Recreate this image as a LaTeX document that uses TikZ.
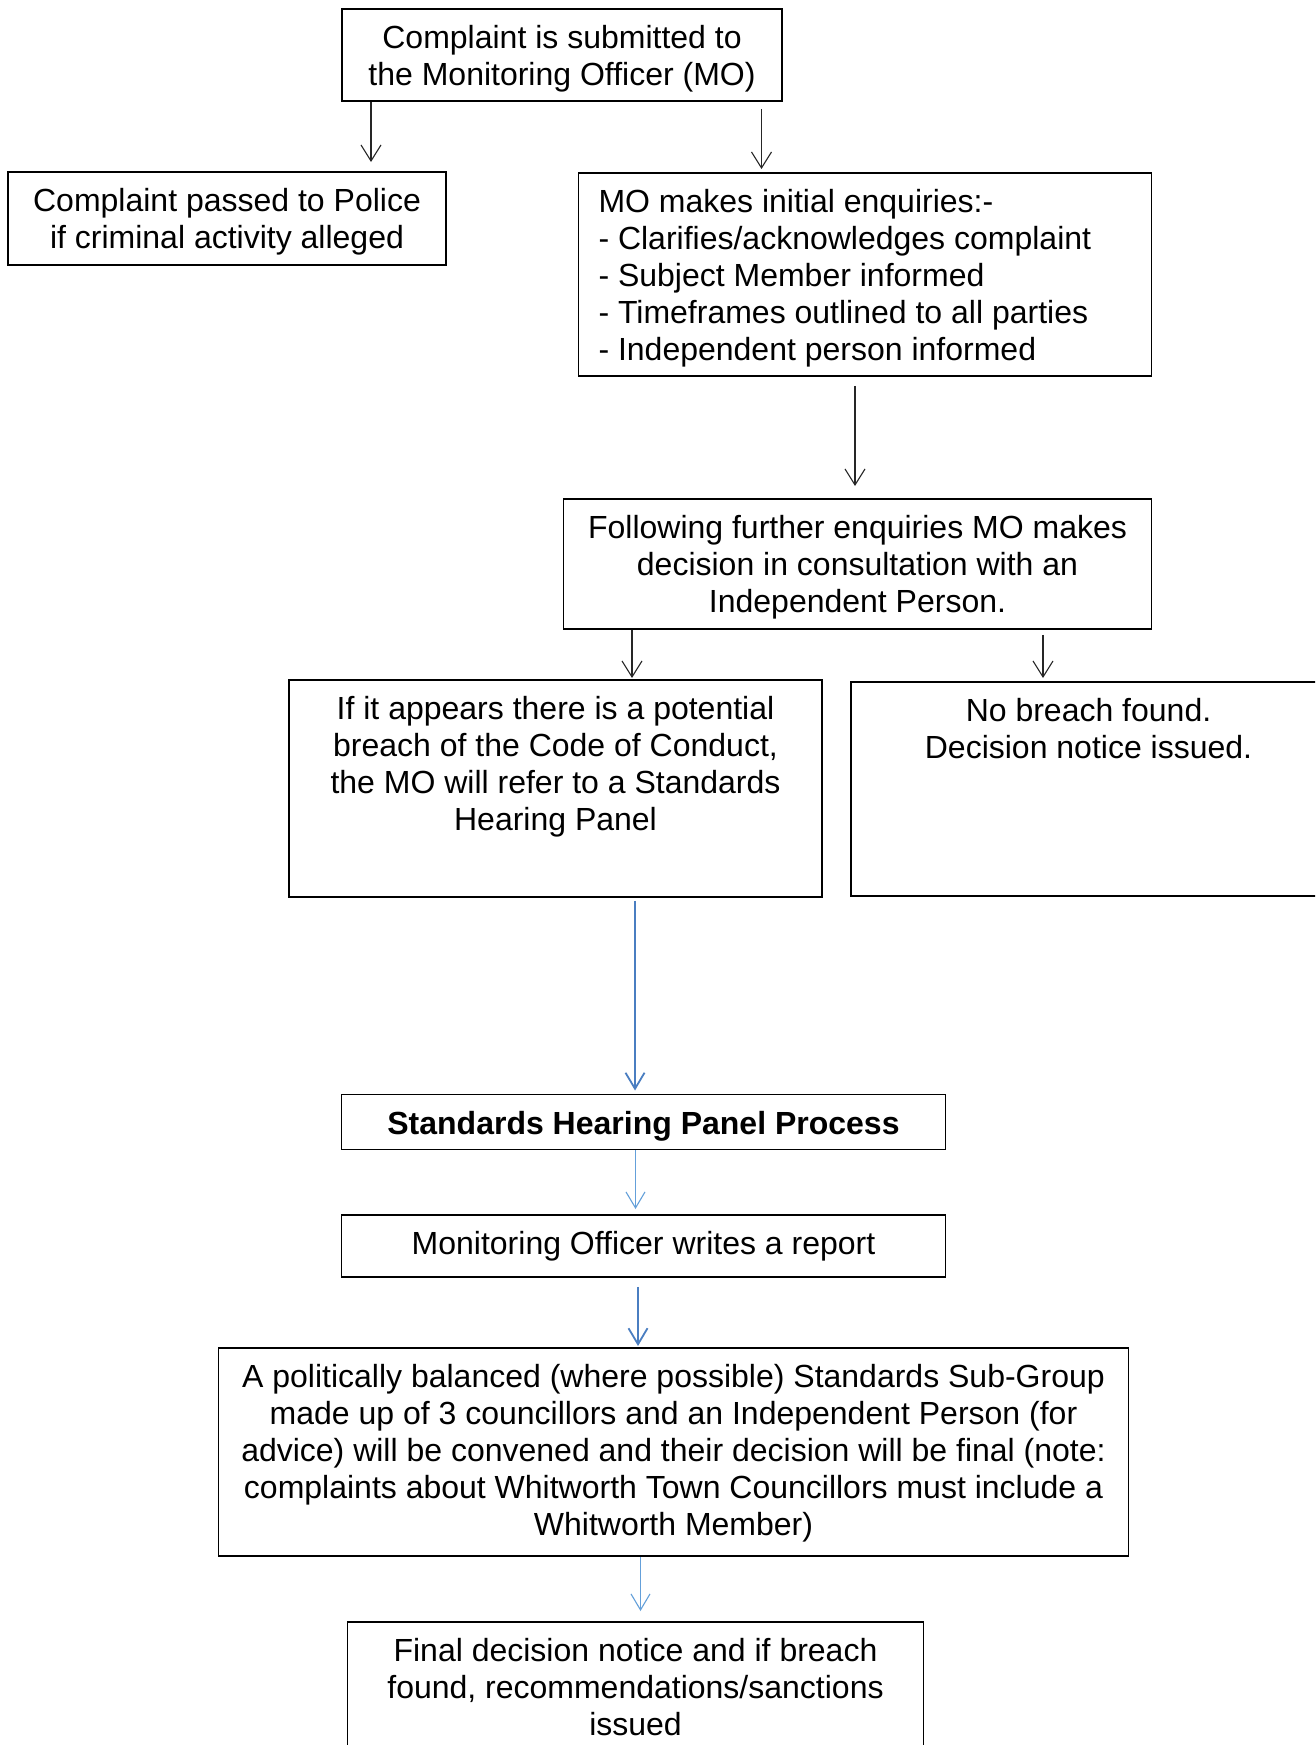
\documentclass[tikz,border=0pt]{standalone}
\usepackage{fontspec}
\setmainfont{Liberation Sans}
\usetikzlibrary{arrows.meta}
\definecolor{blueA}{RGB}{74,126,193}
\definecolor{blueB}{RGB}{100,160,218}
\begin{document}
\begin{tikzpicture}[x=1pt,y=-1pt,
  txt/.style={font=\fontsize{32}{36.8}\selectfont},
  box/.style={draw=black,line width=1.8pt,align=flush center,txt,anchor=north,
    inner xsep=0pt,inner ysep=14pt,text height=26pt},
  barr/.style={draw=black!85,line width=1.1pt,-{Straight Barb[length=16pt,width=20pt]}},
  bluethick/.style={draw=blueA,line width=1.8pt,-{Straight Barb[length=16pt,width=19pt]}},
  bluethin/.style={draw=blueB,line width=1.1pt,-{Straight Barb[length=16pt,width=19pt]}}]
\useasboundingbox (0,0) rectangle (1315,1745);
\clip (0,0) rectangle (1315,1745);
\fill[white] (0,0) rectangle (1315,1745);

\node[box,text width=440pt,text depth=38pt] (b1) at (562,8)
  {Complaint is submitted to\\the Monitoring Officer (MO)};
\node[box,text width=438pt,text depth=39pt] (b2) at (227,171)
  {Complaint passed to Police\\if criminal activity alleged};
\node[box,align=flush left,inner xsep=20pt,text width=533pt,text depth=149pt] (b3) at (865,172)
  {MO makes initial enquiries:-\\- Clarifies/acknowledges complaint\\- Subject Member informed\\- Timeframes outlined to all parties\\- Independent person informed};
\node[box,text width=588pt,text depth=76pt] (b4) at (857.5,498)
  {Following further enquiries MO makes\\decision in consultation with an\\Independent Person.};
\node[box,text width=533pt,text depth=163pt] (b5) at (555.5,679)
  {If it appears there is a potential\\breach of the Code of Conduct,\\the MO will refer to a Standards\\Hearing Panel};
\node[box,text width=475pt,text depth=160pt] (b6) at (1088.5,681)
  {No breach found.\\Decision notice issued.};
\node[box,font=\fontsize{32}{36.8}\selectfont\bfseries,text width=604pt,text depth=1pt] (b7) at (643.5,1093.5)
  {Standards Hearing Panel Process};
\node[box,text width=604pt,text depth=8pt] (b8) at (643.5,1214)
  {Monitoring Officer writes a report};
\node[box,text width=910pt,text depth=154pt] (b9) at (673.5,1347)
  {A politically balanced (where possible) Standards Sub-Group\\made up of 3 councillors and an Independent Person (for\\advice) will be convened and their decision will be final (note:\\complaints about Whitworth Town Councillors must include a\\Whitworth Member)};
\node[box,text width=576pt,text depth=110pt] (b10) at (635.5,1621)
  {Final decision notice and if breach\\found, recommendations/sanctions\\issued};

\coordinate (x1) at (371,0);
\coordinate (x2) at (761.5,0);
\coordinate (x3) at (855,0);
\coordinate (x4) at (632,0);
\coordinate (x5) at (1043,0);
\coordinate (x6) at (635,0);
\coordinate (x7) at (635.5,0);
\coordinate (x8) at (638,0);
\coordinate (x9) at (640.5,0);

\draw[barr] (b1.south -| x1) -- ([yshift=9pt]b2.north -| x1);
\draw[barr] ([yshift=-7pt]b1.south -| x2) -- ([yshift=3pt]b3.north -| x2);
\draw[barr] ([yshift=-9pt]b3.south -| x3) -- ([yshift=12pt]b4.north -| x3);
\draw[barr] (b4.south -| x4) -- ([yshift=1pt]b5.north -| x4);
\draw[barr] ([yshift=-5pt]b4.south -| x5) -- ([yshift=3pt]b6.north -| x5);
\draw[bluethick] ([yshift=-3pt]b5.south -| x6) -- ([yshift=3pt]b7.north -| x6);
\draw[bluethin] (b7.south -| x7) -- ([yshift=5pt]b8.north -| x7);
\draw[bluethick] ([yshift=-9pt]b8.south -| x8) -- ([yshift=1pt]b9.north -| x8);
\draw[bluethin] (b9.south -| x9) -- ([yshift=10pt]b10.north -| x9);
\end{tikzpicture}
\end{document}
